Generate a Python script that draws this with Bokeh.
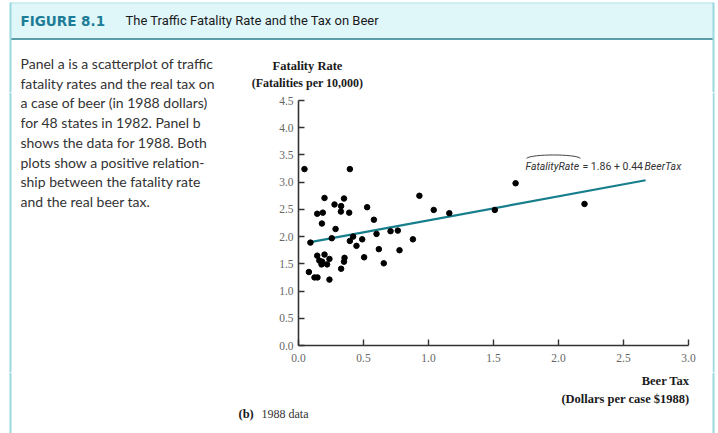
from bokeh.plotting import figure
from bokeh.layouts import column, row
from bokeh.models import FixedTicker, Range1d
from bokeh.embed import file_html
from bokeh.resources import INLINE
from bokeh.core.properties import value

# ---------------- data ----------------
beer_tax = [0.046, 0.395, 0.93, 0.20, 0.35, 0.277, 0.328, 0.528, 1.04, 0.144,
            0.187, 0.326, 0.39, 1.16, 1.51, 0.58, 0.18, 0.285, 0.60, 0.708,
            0.764, 0.256, 0.42, 0.395, 0.49, 0.88, 0.092, 0.446, 0.618, 0.777,
            0.144, 0.20, 0.16, 0.238, 0.354, 0.177, 0.22, 0.35, 0.505, 0.656,
            0.328, 0.08, 0.123, 0.146, 0.238, 1.67, 2.20, 0.182]
fatality_rate = [3.24, 3.24, 2.75, 2.71, 2.70, 2.59, 2.56, 2.54, 2.49, 2.42,
                 2.44, 2.46, 2.44, 2.43, 2.49, 2.31, 2.24, 2.14, 2.05, 2.10,
                 2.11, 1.97, 2.00, 1.92, 1.95, 1.95, 1.89, 1.83, 1.77, 1.75,
                 1.65, 1.67, 1.56, 1.59, 1.61, 1.49, 1.49, 1.54, 1.62, 1.51,
                 1.41, 1.35, 1.25, 1.25, 1.21, 2.98, 2.60, 1.54]
intercept = 1.86
slope = 0.44
fit_x = [0.07, 2.67]
fit_y = [intercept + slope * v for v in fit_x]

x_ticks = [0.0, 0.5, 1.0, 1.5, 2.0, 2.5, 3.0]
x_tick_labels = ["0.0", "0.5", "1.0", "1.5", "2.0", "2.5", "3.0"]
y_ticks = [0.0, 0.5, 1.0, 1.5, 2.0, 2.5, 3.0, 3.5, 4.0, 4.5]
y_tick_labels = ["0.0", "0.5", "1.0", "1.5", "2.0", "2.5", "3.0", "3.5", "4.0", "4.5"]

fig_number = "FIGURE 8.1"
fig_title = "The Traffic Fatality Rate and the Tax on Beer"
caption_lines = ["Panel a is a scatterplot of traffic",
                 "fatality rates and the real tax on",
                 "a case of beer (in 1988 dollars)",
                 "for 48 states in 1982. Panel b",
                 "shows the data for 1988. Both",
                 "plots show a positive relation-",
                 "ship between the fatality rate",
                 "and the real beer tax."]
y_title = ["Fatality Rate", "(Fatalities per 10,000)"]
x_title = ["Beer Tax", "(Dollars per case $1988)"]
panel_tag = "(b)"
panel_name = "1988 data"

serif = "Liberation Serif"
sans = "Roboto"
BORDER = "#9ad8de"
SPLIT = 228   # page x where the caption column ends
TOP = 92      # page y where the plot row starts
BOT = 372     # page y where the plot row ends


def deco(x0, y0, x1, y1):
    """Blank figure whose frame is the whole canvas, in page pixel coordinates."""
    f = figure(width=x1 - x0, height=y1 - y0, output_backend="svg", toolbar_location=None,
               x_range=Range1d(x0, x1), y_range=Range1d(y1, y0),
               min_border=0, min_border_left=0, min_border_right=0,
               min_border_top=0, min_border_bottom=0)
    f.axis.visible = False
    f.grid.visible = False
    f.outline_line_color = None
    f.background_fill_color = "white"
    f.border_fill_color = "white"
    return f


def txt(f, x, y, s, font, size, color="#222222", style="normal", align="left"):
    f.text(x=[x], y=[y], text=[s], text_font=value(font), text_font_size=size,
           text_color=color, text_font_style=style, text_align=align,
           text_baseline="middle")


def caption(f, lo, hi):
    for i, line in enumerate(caption_lines):
        yy = 63 + i * 19.7
        if lo <= yy < hi:
            txt(f, 20, yy, line, "Lato", "14px", color="#333333")


# ---------------- top band (header + y title) ----------------
top = deco(0, 0, 718, TOP)
top.quad(left=[10], right=[713], top=[2], bottom=[38], fill_color="#e0f7fa", line_color=None)
top.segment(x0=[10], y0=[2.5], x1=[713], y1=[2.5], line_color="#b5e3e8", line_width=1)
top.segment(x0=[10], y0=[38.5], x1=[713], y1=[38.5], line_color="#5a9ea9", line_width=2)
top.segment(x0=[10, 713], y0=[2, 2], x1=[10, 713], y1=[TOP, TOP], line_color=BORDER, line_width=2)
txt(top, 20, 20, fig_number, "DejaVu Sans", "13.5px", color="#1e7d96", style="bold")
txt(top, 125, 20, fig_title, sans, "13px", color="#1a1a1a")
caption(top, 40, TOP)
txt(top, 307, 65, y_title[0], serif, "12.5px", color="#1a1a1a", style="bold", align="center")
txt(top, 307, 82, y_title[1], serif, "12px", color="#1a1a1a", style="bold", align="center")

# ---------------- caption (middle) ----------------
cap = deco(0, TOP, SPLIT, BOT)
cap.segment(x0=[10], y0=[TOP], x1=[10], y1=[BOT], line_color=BORDER, line_width=2)
caption(cap, TOP, BOT)

# ---------------- main plot ----------------
p = figure(width=712 - SPLIT, height=BOT - TOP, output_backend="svg", toolbar_location=None,
           x_range=Range1d(0, 3.0), y_range=Range1d(0, 4.5),
           min_border_left=298 - SPLIT, min_border_right=712 - 688,
           min_border_top=100 - TOP, min_border_bottom=BOT - 345)
p.outline_line_color = None
p.grid.visible = False
p.background_fill_color = "white"
p.border_fill_color = "white"

for ax, ticks, labels in ((p.xaxis, x_ticks, x_tick_labels), (p.yaxis, y_ticks, y_tick_labels)):
    ax.ticker = FixedTicker(ticks=ticks)
    ax.major_label_overrides = {t: l for t, l in zip(ticks, labels)}
    ax.minor_tick_line_color = None
    ax.major_tick_in = 6
    ax.major_tick_out = 0
    ax.axis_line_color = "#333333"
    ax.axis_line_width = 1.6
    ax.major_tick_line_color = "#333333"
    ax.major_tick_line_width = 1.4
    ax.major_label_text_font = serif
    ax.major_label_text_font_size = "11.5px"
    ax.major_label_text_color = "#666666"
p.xaxis.major_label_standoff = 8
p.yaxis.major_label_standoff = 5

p.line(fit_x, fit_y, line_color="#177f8c", line_width=2.2)
p.scatter(beer_tax, fatality_rate, size=5.5, color="black")


def dx(px):
    return (px - 298) / 130


def dy(py):
    return (345 - py) / 54.4


eq_font_size = "10.5px"
p.text(x=[dx(525)], y=[dy(166)], text=["FatalityRate"], text_font=value(sans),
       text_font_size=eq_font_size, text_font_style="italic", text_color="#333333",
       text_baseline="middle")
p.text(x=[dx(582)], y=[dy(166)], text=["= 1.86 + 0.44"], text_font=value(sans),
       text_font_size=eq_font_size, text_color="#333333", text_baseline="middle")
p.text(x=[dx(644)], y=[dy(166)], text=["BeerTax"], text_font=value(sans),
       text_font_size=eq_font_size, text_font_style="italic", text_color="#333333",
       text_baseline="middle")
p.bezier(x0=[dx(526)], y0=[dy(158)], x1=[dx(580)], y1=[dy(158)],
         cx0=[dx(531)], cy0=[dy(153.5)], cx1=[dx(575)], cy1=[dy(153.5)],
         line_color="#444444", line_width=1)

# ---------------- right border strip (middle) ----------------
strip = deco(712, TOP, 718, BOT)
strip.segment(x0=[713], y0=[TOP], x1=[713], y1=[BOT], line_color=BORDER, line_width=2)

# ---------------- bottom band (x title) ----------------
bot = deco(0, BOT, 718, 433)
bot.segment(x0=[10, 713], y0=[BOT, BOT], x1=[10, 713], y1=[433, 433], line_color=BORDER, line_width=2)
txt(bot, 689, 380, x_title[0], serif, "12.5px", color="#1a1a1a", style="bold", align="right")
txt(bot, 689, 398, x_title[1], serif, "12.5px", color="#1a1a1a", style="bold", align="right")
txt(bot, 238, 413, panel_tag, serif, "12.5px", color="#1a1a1a", style="bold")
txt(bot, 261, 413, panel_name, serif, "12px", color="#333333")

layout = column(top, row(cap, column(p, spacing=0), strip, spacing=0), bot, spacing=0)

open("out.html", "w").write(file_html(layout, INLINE))
